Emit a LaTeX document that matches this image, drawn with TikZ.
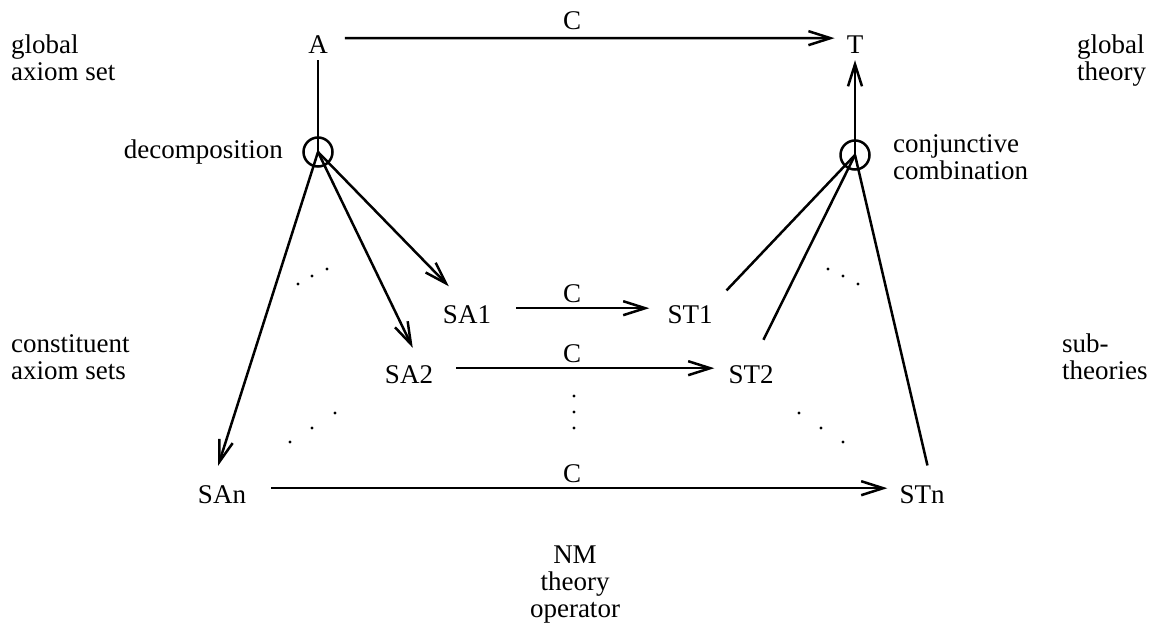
\documentclass[tikz,border=0pt]{standalone}
\usepackage{fontspec}
\setmainfont{Liberation Serif}
\usetikzlibrary{arrows.meta,positioning}

\begin{document}
\begin{tikzpicture}[
  x=1pt, y=-1pt,
  font=\fontsize{27pt}{27pt}\selectfont,
  term/.style={inner sep=0pt, anchor=base},
  note/.style={inner sep=0pt, align=left, anchor=base west},
  junction/.style={draw, circle, line width=2.5pt, minimum size=29pt, inner sep=0pt},
  flow/.style={-{Straight Barb[length=22pt, width=14pt]}, line width=2.5pt},
  link/.style={line width=2.5pt}
]
\useasboundingbox (0,0) rectangle (1153,634);

% axiom sets and theories
\node[term] (A) at (318,53) {A};
\node[term] (T) at (855,53) {T};
\node[term] (SA1) at (467,323) {SA1};
\node[term] (ST1) at (690,323) {ST1};
\node[term] (SA2) at (409,383) {SA2};
\node[term] (ST2) at (751,383) {ST2};
\node[term] (SAn) at (222,503) {SAn};
\node[term] (STn) at (922,503) {STn};

% operator labels
\node[term] (c0) at (572,30) {C};
\node[term] (c1) at (572,302) {C};
\node[term] (c2) at (572,362) {C};
\node[term] (c3) at (572,482) {C};

\node[junction] (dec) at (318,152) {};
\node[junction] (conj) at (855,155) {};

% side notes (base = last line)
\node[note] (globalax) at (11,80) {global\\axiom set};
\node[note] (globalth) at (1077,80) {global\\theory};
\node[inner sep=0pt, anchor=base east] (decomp) at (283,158) {decomposition};
\node[note] (conjcomb) at (893,179) {conjunctive\\combination};
\node[note] (constit) at (11,379) {constituent\\axiom sets};
\node[note] (subth) at (1062,379) {sub-\\theories};
\node[inner sep=0pt, align=center, anchor=base] (nmop) at (575,617) {NM\\theory\\operator};

% theory operator arrows
\draw[flow, shorten <=17pt, shorten >=12pt] ([yshift=6pt]A.east) -- ([yshift=6pt]T.west);
\draw[flow, shorten <=25pt, shorten >=18pt] ([yshift=6pt]SA1.east) -- ([yshift=6pt]ST1.west);
\draw[flow, shorten <=23pt, shorten >=14pt] ([yshift=6pt]SA2.east) -- ([yshift=6pt]ST2.west);
\draw[flow, shorten <=25pt, shorten >=12pt] ([yshift=6pt]SAn.east) -- ([yshift=6pt]STn.west);

% decomposition
\draw[link, shorten <=7pt] (A.south) -- (dec.center);
\draw[flow, shorten >=26pt] (dec.center) -- (SA1.north);
\draw[flow, shorten >=19pt] (dec.center) -- ([xshift=12pt]SA2.north);
\draw[flow, shorten >=20pt] (dec.center) -- ([xshift=-10pt]SAn.north);

% combination
\draw[link, shorten <=20pt] (ST1.north east) -- (conj.center);
\draw[link, shorten <=28pt] (ST2.north) -- (conj.center);
\draw[link, shorten <=20pt] ([xshift=10pt]STn.north) -- (conj.center);
\draw[flow, shorten >=7pt] (conj.center) -- (T.south);

% ellipses
\foreach \px/\py in {298/284, 312/276, 327/269, 290/442, 312/428, 335/413,
                     828/269, 843/276, 858/284, 799/413, 821/428, 843/442,
                     574/396, 574/412, 574/428}
  \fill (\px,\py) circle (1.7pt);

\end{tikzpicture}
\end{document}
